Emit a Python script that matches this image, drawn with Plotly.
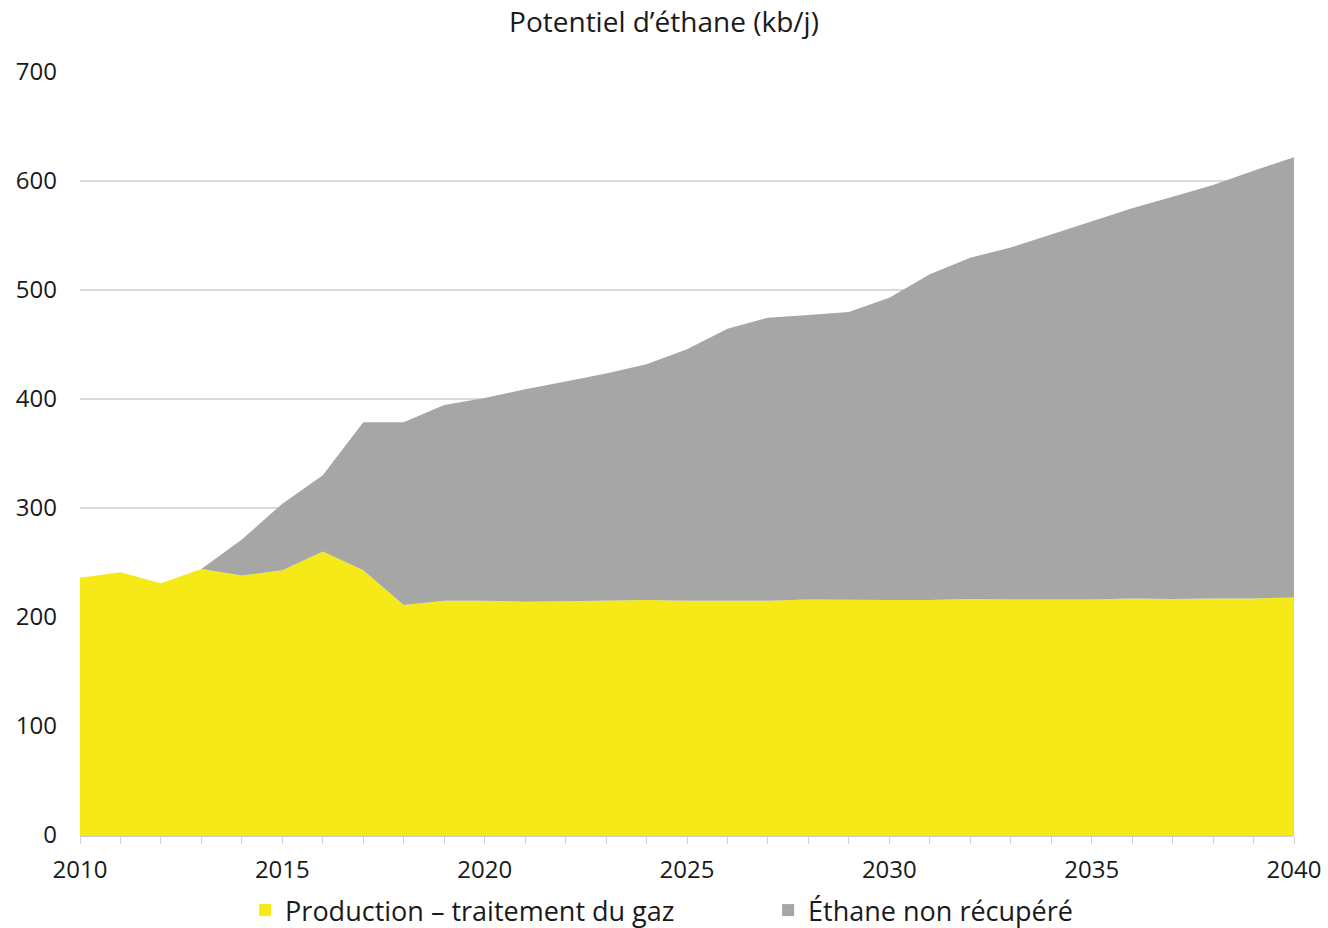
import plotly.graph_objects as go

years = list(range(2010, 2041))
production = [236, 241, 231, 244, 238, 243, 260, 243, 211, 215,
              215, 214, 214.5, 215, 215.5, 215, 215, 215, 216, 215.5,
              215.5, 215.5, 216.5, 216, 216, 216, 217, 216.5, 217, 217, 218]
total = [236, 241, 231, 244, 271, 304, 330, 378.6, 378.6, 394.5,
         401, 409, 416, 423.5, 431.8, 445.6, 464.5, 474.6, 477, 479.8,
         493, 514.4, 529.6, 539, 551, 563, 575, 585.6, 596.3, 609.5, 621.7]
non_recupere = [round(t - p, 1) for t, p in zip(total, production)]

series_names = ["Production – traitement du gaz", "Éthane non récupéré"]
colors = ["#f5ea17", "#a6a6a6"]
FONT = "'Open Sans', Lato, sans-serif"

fig = go.Figure()
for name, vals, col in zip(series_names, [production, non_recupere], colors):
    fig.add_trace(go.Scatter(x=years, y=vals, name=name, stackgroup="one",
                             mode="lines", line=dict(width=0, color=col),
                             fillcolor=col, showlegend=False, hoverinfo="x+y"))
for name, col in zip(series_names, colors):
    fig.add_trace(go.Scatter(x=[None], y=[None], name=name, mode="markers",
                             marker=dict(symbol="square", size=17, color=col)))

fig.update_layout(
    width=1328, height=928,
    margin=dict(l=80, r=34, t=72, b=93, autoexpand=False),
    paper_bgcolor="white", plot_bgcolor="white",
    font=dict(family=FONT, size=24, color="#1a1a1a"),
    title=dict(text="Potentiel d’éthane (kb/j)", x=0.5, xanchor="center",
               y=0.976, yanchor="middle", font=dict(size=28, family=FONT, color="#1a1a1a")),
    xaxis=dict(range=[2010, 2040], dtick=5, tick0=2010, showgrid=False,
               showline=True, linecolor="#d0d0d0", linewidth=1.5,
               ticks="outside", ticklen=7, tickcolor="#d0d0d0",
               minor=dict(dtick=1, ticks="outside", ticklen=7, tickcolor="#d0d0d0"),
               ticklabelstandoff=5, tickfont=dict(size=24), zeroline=False),
    yaxis=dict(range=[0, 700], dtick=100, showgrid=True, gridcolor="#d9d9d9",
               gridwidth=1.5, zeroline=False, showline=False, ticks="",
               ticklabelstandoff=22, tickfont=dict(size=24)),
    legend=dict(orientation="h", x=0.136, xanchor="left", y=-0.099, yanchor="middle",
                font=dict(size=27), entrywidth=478, itemsizing="constant",
                traceorder="normal", bgcolor="rgba(0,0,0,0)"),
    showlegend=True,
)

fig.write_html("out.html")
